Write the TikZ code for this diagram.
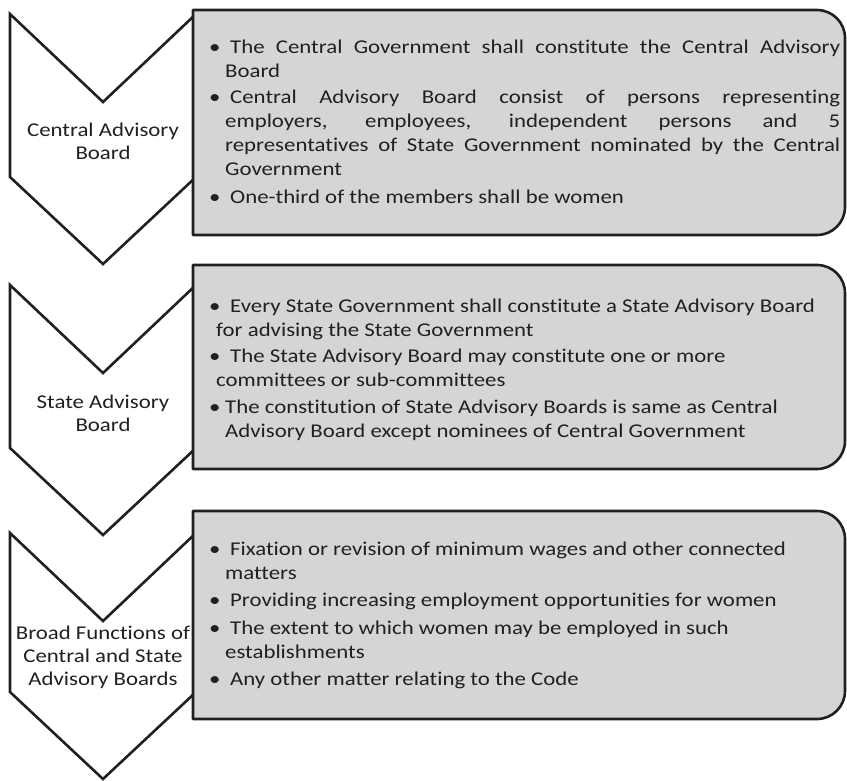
\documentclass[tikz,border=0pt]{standalone}
\usepackage{fontspec}
\setmainfont{Carlito}[FakeStretch=1.17,Ligatures=NoCommon]
\definecolor{boxgray}{RGB}{212,213,215}
\definecolor{ink}{RGB}{35,31,32}
\newcommand{\fs}{\fontsize{19.5}{24}\selectfont}
\newcommand{\bul}{\makebox[16pt][l]{\textbullet}\hspace*{5pt}}
\newcommand{\bulb}{\makebox[16pt][l]{\textbullet}}
\newcommand{\cont}{\hspace*{16pt}}
\newcommand{\rbox}[2]{%
  \filldraw[boxline] (193,#1) -- (817,#1) arc[start angle=90,end angle=0,radius=28pt]
    -- (845,#2-28) arc[start angle=0,end angle=-90,radius=28pt] -- (193,#2) -- cycle;}
\newcommand{\chev}[2]{% top y, side-bottom y
  \draw[chevline] (10,#1) -- (103,#1+88) -- (196,#1) -- (196,#2) -- (103,#2+87) -- (10,#2) -- cycle;}
\begin{document}
\begin{tikzpicture}[x=1pt,y=-1pt,
  boxline/.style={fill=boxgray,draw=ink,line width=2.6pt,line join=round},
  chevline/.style={fill=white,draw=ink,line width=2.6pt,line join=miter},
  chevtext/.style={align=center,font=\fontsize{19.5}{23}\selectfont,text=ink,inner sep=0pt},
  boxtext/.style={anchor=base west,inner sep=0pt,text=ink}]
\useasboundingbox (0,0) rectangle (847,780);
% chevrons
\chev{14}{177}
\chev{285}{448}
\chev{533}{692}
% boxes
\rbox{10}{235}
\rbox{265}{469}
\rbox{511}{719}
% chevron labels
\node[chevtext] (c1) at (103,141) {Central Advisory\\Board};
\node[chevtext] (c2) at (103,413) {State Advisory\\Board};
\node[chevtext] (c3) at (103,657) {Broad Functions of\\Central and State\\Advisory Boards};
% box texts
\node[boxtext] (t1) at (209,53) {\parbox[t]{640pt}{\fs\raggedright
\bul\makebox[610pt][s]{The Central Government shall constitute the Central Advisory}\\
\cont Board\\[2pt]
\bul\makebox[610pt][s]{Central Advisory Board consist of persons representing}\\
\cont\makebox[615pt][s]{employers, employees, independent persons and 5}\\
\cont\makebox[615pt][s]{representatives of State Government nominated by the Central}\\
\cont Government\\[4pt]
\bul One-third of the members shall be women}};
\node[boxtext] (t2) at (209,312) {\parbox[t]{640pt}{\fs\raggedright
\bul Every State Government shall constitute a State Advisory Board\\
\hspace*{7pt}for advising the State Government\\[2pt]
\bul The State Advisory Board may constitute one or more\\
\hspace*{7pt}committees or sub-committees\\[3pt]
\bulb The constitution of State Advisory Boards is same as Central\\
\cont Advisory Board except nominees of Central Government}};
\node[boxtext] (t3) at (209,555) {\parbox[t]{640pt}{\fs\raggedright
\bul Fixation or revision of minimum wages and other connected\\
\cont matters\\[3pt]
\bul Providing increasing employment opportunities for women\\[4pt]
\bul The extent to which women may be employed in such\\
\cont establishments\\[3pt]
\bul Any other matter relating to the Code}};
\end{tikzpicture}
\end{document}
